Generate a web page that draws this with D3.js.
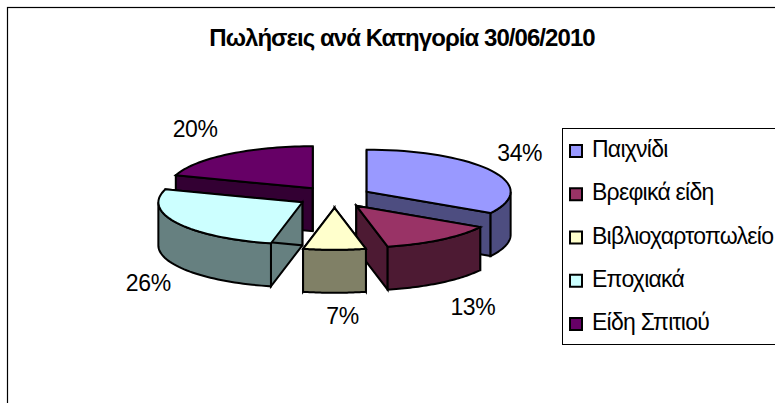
<!DOCTYPE html>
<html><head><meta charset="utf-8">
<style>html,body{margin:0;padding:0;background:#fff;overflow:hidden}svg{display:block}text{font-family:"Liberation Sans",Arial,sans-serif;fill:#000}</style>
<script src="https://cdnjs.cloudflare.com/ajax/libs/d3/7.8.5/d3.min.js"></script>
</head><body><svg id="c" width="775" height="403"></svg>
<script>
const categories=["Παιχνίδι","Βρεφικά είδη","Βιβλιοχαρτοπωλείο","Εποχιακά","Είδη Σπιτιού"];
const values=[33.5,13,7,26.5,20];
const labels=["34%","13%","7%","26%","20%"];
const topColors=["#9999FF","#993366","#FFFFCC","#CCFFFF","#660066"];
const sideColors=["#4D4D80","#4D1A33","#808066","#668080","#330033"];
const paintOrder=[4,0,3,1,2];
const labelNudge=[[28,-16],[32,69],[8,68],[-29,62],[-33,-23]];

const svg=d3.select("#c");
const W=775,H=403;
svg.append("rect").attr("x",7.5).attr("y",7.5).attr("width",W+20).attr("height",H+20).attr("fill","#fff").attr("stroke","#000").attr("stroke-width",1.2);

svg.append("text").attr("x",402).attr("y",46).attr("text-anchor","middle")
  .attr("font-size",24).attr("font-weight","bold").attr("letter-spacing",-0.95)
  .text("Πωλήσεις ανά Κατηγορία 30/06/2010");

const cx=334.5,cy=197,rx=144,ry=42,depth=43,explode=37,sy=ry/rx;
const pie=d3.pie().sort(null).startAngle(0).endAngle(2*Math.PI)(values);
const px=(c,a)=>c[0]+rx*Math.sin(a), py=(c,a)=>c[1]-ry*Math.cos(a);
const line=d3.line();
const arcPts=(c,a0,a1,dy)=>d3.range(0,41).map(i=>{const a=a0+(a1-a0)*i/40;return [px(c,a),py(c,a)+dy];});

const g=svg.append("g").attr("stroke","#000").attr("stroke-width",2).attr("stroke-linejoin","miter");
paintOrder.forEach(i=>{
  const s=pie[i],mid=(s.startAngle+s.endAngle)/2;
  const c=[cx+explode*Math.sin(mid),cy-explode*sy*Math.cos(mid)];
  [s.startAngle,s.endAngle].forEach(a=>{
    g.append("path").attr("fill",sideColors[i]).attr("d",line([c,[px(c,a),py(c,a)],[px(c,a),py(c,a)+depth],[c[0],c[1]+depth]])+"Z");
  });
  const a0=Math.max(s.startAngle,Math.PI/2),a1=Math.min(s.endAngle,3*Math.PI/2);
  if(a1>a0){
    g.append("path").attr("fill",sideColors[i]).attr("d",line(arcPts(c,a0,a1,0).concat(arcPts(c,a1,a0,depth)))+"Z");
  }
  g.append("path").attr("fill",topColors[i]).attr("d",line([c].concat(arcPts(c,s.startAngle,s.endAngle,0)))+"Z");
  const lx=px(c,mid)+labelNudge[i][0],ly=py(c,mid)+labelNudge[i][1];
  svg.append("text").attr("class","lab").attr("x",lx).attr("y",ly).attr("text-anchor","middle").attr("dominant-baseline","middle")
    .attr("font-size",23).attr("letter-spacing",-0.4).text(labels[i]);
});
svg.selectAll("text.lab").raise();

svg.append("rect").attr("x",562.5).attr("y",128.5).attr("width",W).attr("height",216).attr("fill","#fff").attr("stroke","#000").attr("stroke-width",1);
const ly=d3.scalePoint().domain(categories).range([151,324]);
categories.forEach((k,i)=>{
  svg.append("rect").attr("x",570).attr("y",ly(k)-6).attr("width",12).attr("height",12).attr("fill",topColors[i]).attr("stroke","#000").attr("stroke-width",2);
  svg.append("text").attr("x",592).attr("y",ly(k)).attr("dominant-baseline","middle").attr("font-size",23).attr("letter-spacing",-0.75).text(k);
});
</script></body></html>
